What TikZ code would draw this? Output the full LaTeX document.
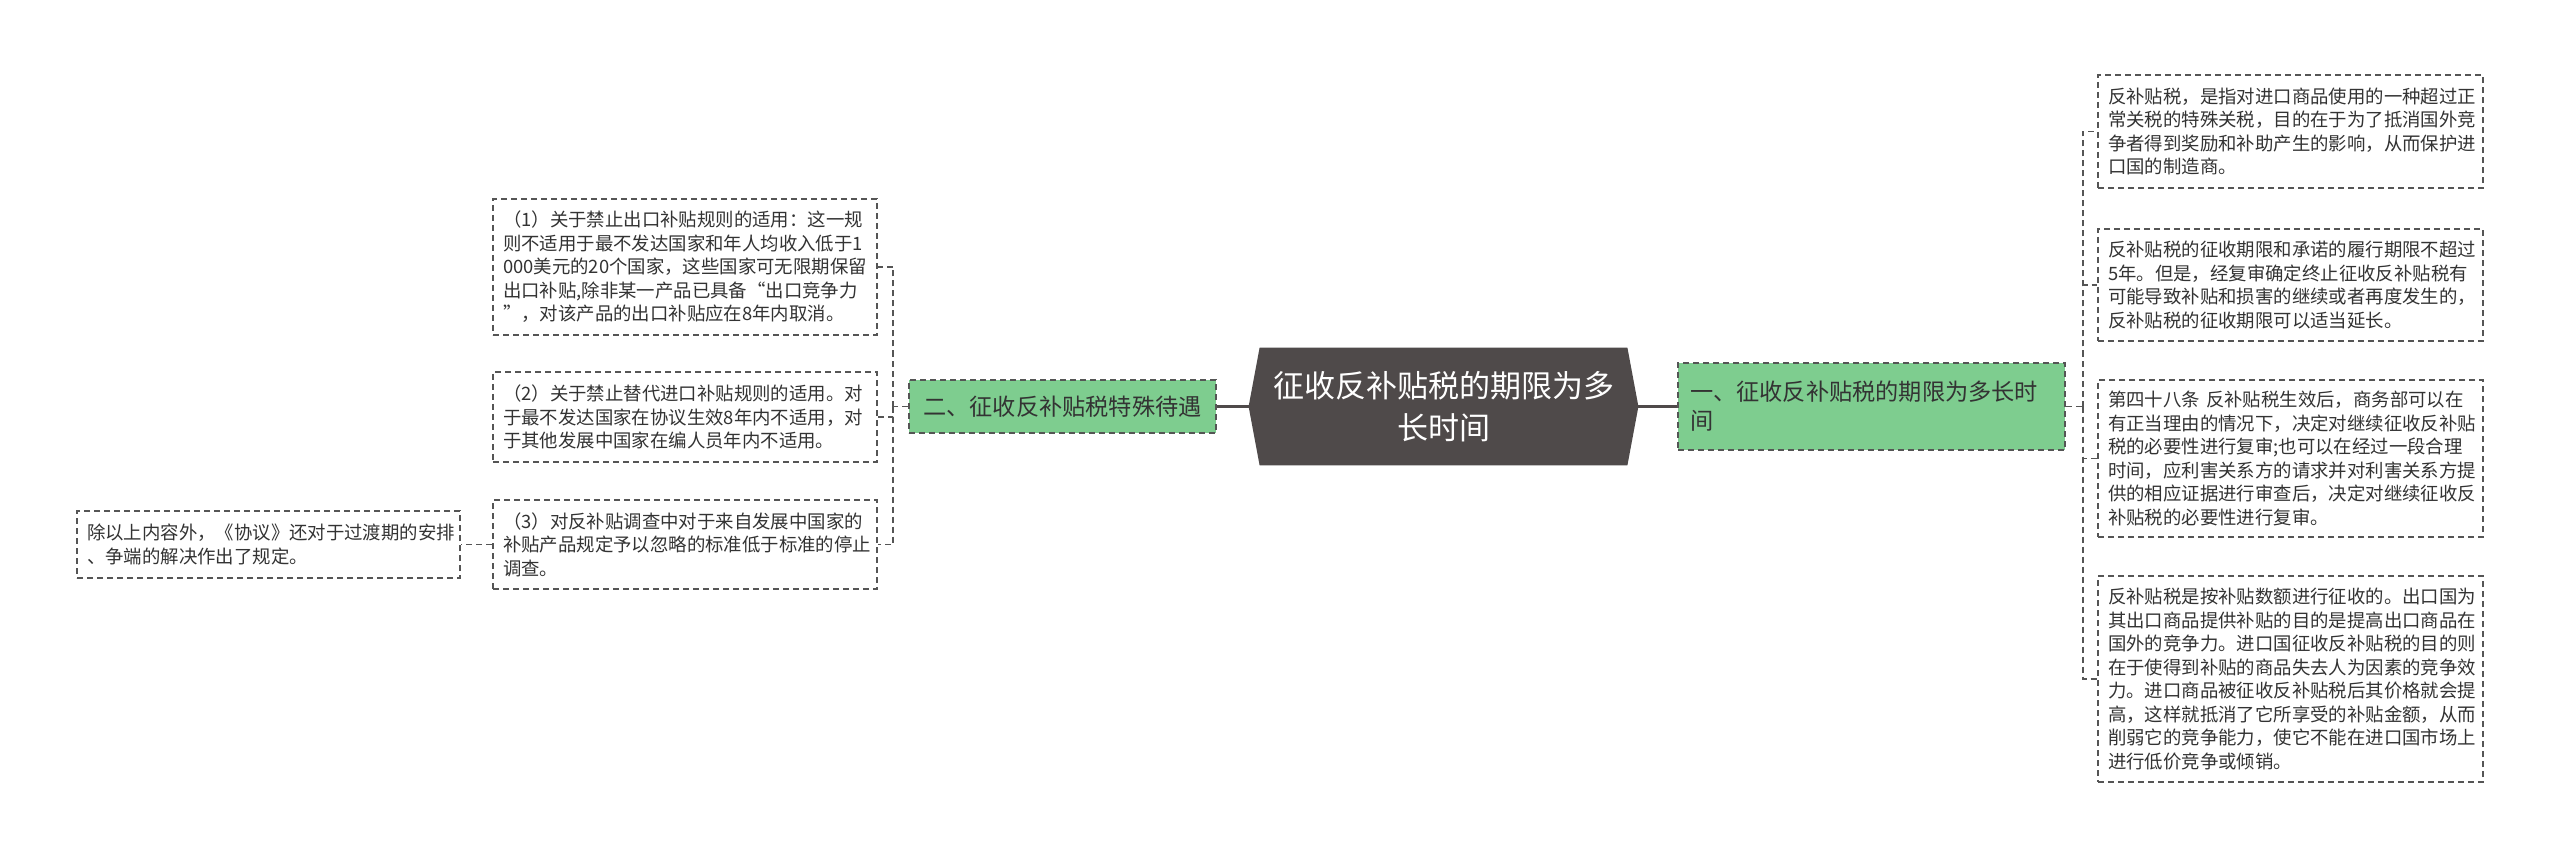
\documentclass[tikz,border=0pt]{standalone}
\usepackage{fontspec}
\setmainfont{Noto Sans CJK SC}
\usetikzlibrary{backgrounds}
\definecolor{hexdark}{HTML}{4F4A4A}
\definecolor{mygreen}{HTML}{7ECD8F}
\definecolor{txt}{HTML}{333333}
\definecolor{bord}{HTML}{555555}
\begin{document}
\begin{tikzpicture}[x=0.5pt,y=-0.5pt,
  leaf/.style={draw=bord, line width=0.8pt, dash pattern=on 3pt off 2pt, fill=white, text=txt,
    font=\fontsize{9.2}{11.75}\selectfont, align=left, inner xsep=5pt, inner ysep=0pt,
    text width=182pt, minimum width=192pt},
  greennode/.style={draw=bord, line width=0.8pt, dash pattern=on 3pt off 2pt, fill=mygreen, text=txt,
    font=\fontsize{11.6}{14.5}\selectfont, inner ysep=0pt},
  conn/.style={draw=bord, line width=0.7pt, dash pattern=on 3pt off 2pt},
  mainconn/.style={draw=hexdark, line width=1.5pt}]
\useasboundingbox (0,0) rectangle (2560,861);

% center
\node[text=white, font=\fontsize{15.5}{21}\selectfont, align=center, minimum width=194.5pt, minimum height=58.5pt, inner sep=0pt]
  (c) at (1443.5,406.5) {征收反补贴税的期限为多\\长时间};

% green nodes
\node[greennode, align=left, inner xsep=6pt, text width=181.5pt, minimum width=193.5pt, minimum height=43.5pt]
  (g1) at (1871.5,406.5) {一、征收反补贴税的期限为多长时\\间};
\node[greennode, align=center, inner xsep=0pt, minimum width=153.5pt, minimum height=26.5pt]
  (g2) at (1062.5,406.5) {二、征收反补贴税特殊待遇};

% left leaves
\node[leaf, minimum height=68pt] (l1) at (685,267)
  {（1）关于禁止出口补贴规则的适用：这一规\\则不适用于最不发达国家和年人均收入低于1\\000美元的20个国家，这些国家可无限期保留\\出口补贴,除非某一产品已具备“出口竞争力\\”，对该产品的出口补贴应在8年内取消。};
\node[leaf, minimum height=45pt] (l2) at (685,417)
  {（2）关于禁止替代进口补贴规则的适用。对\\于最不发达国家在协议生效8年内不适用，对\\于其他发展中国家在编人员年内不适用。};
\node[leaf, minimum height=44.5pt] (l3) at (685,544.5)
  {（3）对反补贴调查中对于来自发展中国家的\\补贴产品规定予以忽略的标准低于标准的停止\\调查。};
\node[leaf, minimum height=33.5pt, text width=181.5pt, minimum width=191.5pt] (f) at (268.5,544.5)
  {除以上内容外，《协议》还对于过渡期的安排\\、争端的解决作出了规定。};

% right leaves
\node[leaf, minimum height=56.5pt, text width=182.5pt, minimum width=192.5pt] (r1) at (2290.5,131.5)
  {反补贴税，是指对进口商品使用的一种超过正\\常关税的特殊关税，目的在于为了抵消国外竞\\争者得到奖励和补助产生的影响，从而保护进\\口国的制造商。};
\node[leaf, minimum height=56pt, text width=182.5pt, minimum width=192.5pt] (r2) at (2290.5,285)
  {反补贴税的征收期限和承诺的履行期限不超过\\5年。但是，经复审确定终止征收反补贴税有\\可能导致补贴和损害的继续或者再度发生的，\\反补贴税的征收期限可以适当延长。};
\node[leaf, minimum height=78.5pt, text width=182.5pt, minimum width=192.5pt] (r3) at (2290.5,458.5)
  {第四十八条 反补贴税生效后，商务部可以在\\有正当理由的情况下，决定对继续征收反补贴\\税的必要性进行复审;也可以在经过一段合理\\时间，应利害关系方的请求并对利害关系方提\\供的相应证据进行审查后，决定对继续征收反\\补贴税的必要性进行复审。};
\node[leaf, minimum height=103pt, text width=182.5pt, minimum width=192.5pt] (r4) at (2290.5,679)
  {反补贴税是按补贴数额进行征收的。出口国为\\其出口商品提供补贴的目的是提高出口商品在\\国外的竞争力。进口国征收反补贴税的目的则\\在于使得到补贴的商品失去人为因素的竞争效\\力。进口商品被征收反补贴税后其价格就会提\\高，这样就抵消了它所享受的补贴金额，从而\\削弱它的竞争能力，使它不能在进口国市场上\\进行低价竞争或倾销。};

% bus coordinates
\coordinate (bR) at (2083,0);
\coordinate (bL) at (893,0);

% connectors
\draw[mainconn] (c.east) -- (g1.west);
\draw[mainconn] (c.west) -- (g2.east);

\draw[conn] (g1.east) -- (g1.east -| bR);
\foreach \n in {r1,r2,r3,r4}{
  \draw[conn] (g1.east -| bR) |- (\n.west);
}
\draw[conn] (g2.west) -- (g2.west -| bL);
\foreach \n in {l1,l2,l3}{
  \draw[conn] (g2.west -| bL) |- (\n.east);
}
\draw[conn] (l3.west) -- (f.east);

\begin{pgfonlayer}{background}
\fill[white] (0,0) rectangle (2560,861);
\fill[hexdark] (c.west) -- ([xshift=5.5pt]c.north west) -- ([xshift=-5.5pt]c.north east) -- (c.east)
  -- ([xshift=-5.5pt]c.south east) -- ([xshift=5.5pt]c.south west) -- cycle;
\end{pgfonlayer}
\end{tikzpicture}
\end{document}
